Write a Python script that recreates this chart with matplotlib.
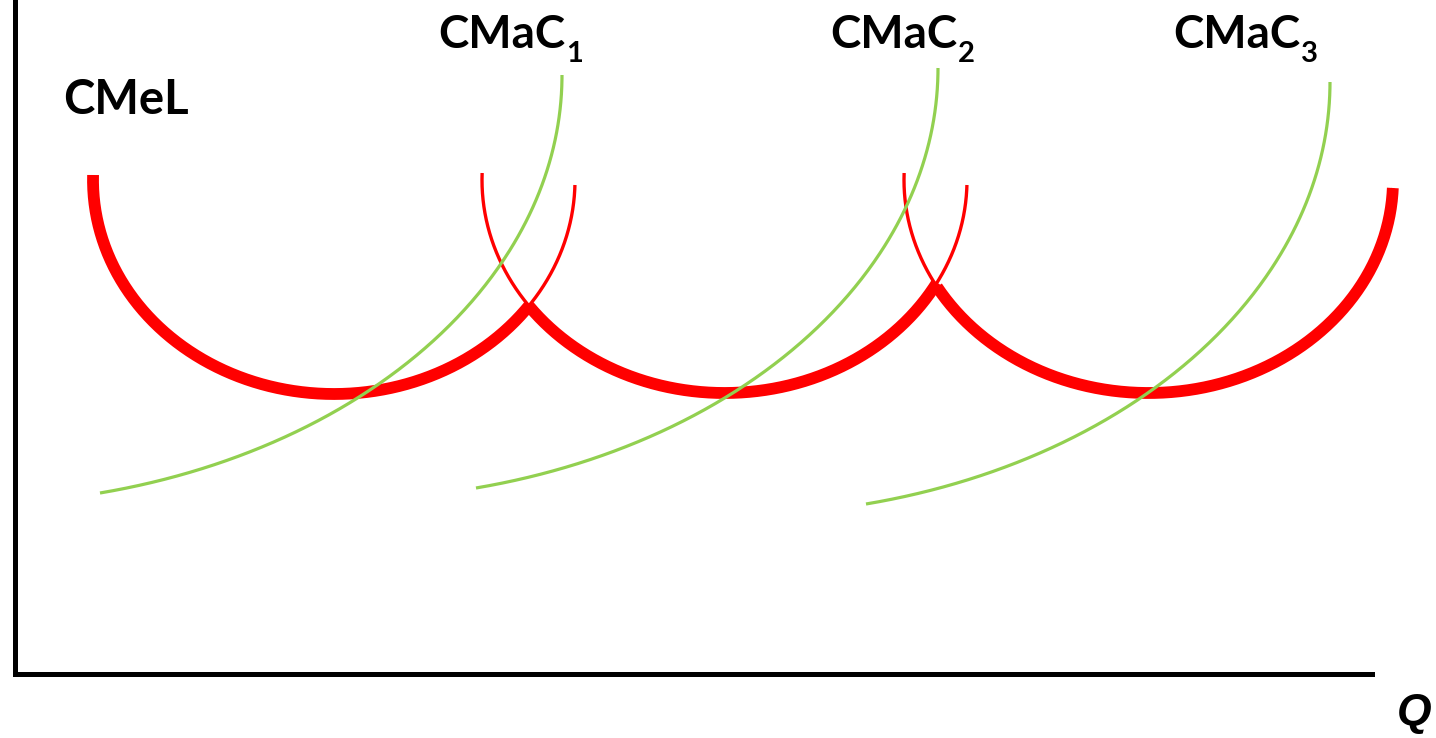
import numpy as np
import matplotlib.pyplot as plt

plt.rcParams['font.family'] = ['Lato', 'DejaVu Sans']

# axis units: 1 unit ~ 1 pixel of the reference, origin at the axes corner

# short run average cost curves (U shaped)
ac_center_q = [319.5, 710.0, 1134.0]
ac_half_width = [241.0, 242.5, 244.5]
ac_min_cost = [280.0, 281.0, 281.0]
ac_mid_cost = [494.0, 494.0, 494.0]
ac_left_end_cost = [499.0, 501.0, 501.0]
ac_right_end_cost = [489.0, 489.0, 486.0]

# quantities where the long run envelope (CMeL) moves to the next plant
switch_q = [514.5, 922.5]

# short run marginal cost curves
mc_top_q = [547.5, 923.5, 1315.5]
mc_top_cost = [599.0, 606.0, 592.0]
mc_bottom_q = [85.5, 461.5, 851.5]
mc_bottom_cost = [181.0, 186.0, 170.0]
mc_subscripts = ['1', '2', '3']
mc_label_q = [423.5, 815.5, 1158.5]

RED = '#FF0000'
GREEN = '#92D050'
MC_WIDTH = 600.0  # horizontal semi-axis of the marginal cost arcs


def t_on_lower_half(q, cx, a):
    '''parametric angle of the lower half of an ellipse at abscissa q'''
    c = np.clip((q - cx) / a, -1, 1)
    return 2 * np.pi - np.arccos(c)


fig = plt.figure(figsize=(14.36, 7.38), dpi=100)
ax = fig.add_axes([14.5 / 1436, 64 / 738, 1357.5 / 1436, 674 / 738])
ax.set_xlim(0, 1357.5)
ax.set_ylim(0, 674)

for i in range(3):
    cx = ac_center_q[i]
    cy = ac_mid_cost[i]
    a = ac_half_width[i]
    b = cy - ac_min_cost[i]
    t_left = np.pi - np.arcsin((ac_left_end_cost[i] - cy) / b)
    t_right = 2 * np.pi + np.arcsin((ac_right_end_cost[i] - cy) / b)

    # thin full short run curve
    t = np.linspace(t_left, t_right, 300)
    ax.plot(cx + a * np.cos(t), cy + b * np.sin(t), color=RED, lw=2.4,
            solid_capstyle='butt', zorder=2, clip_on=False)

    # thick part belonging to the long run envelope
    t0 = t_left if i == 0 else t_on_lower_half(switch_q[i - 1], cx, a)
    t1 = t_right if i == 2 else t_on_lower_half(switch_q[i], cx, a)
    t = np.linspace(t0, t1, 300)
    ax.plot(cx + a * np.cos(t), cy + b * np.sin(t), color=RED, lw=8.5,
            solid_capstyle='butt', zorder=3, clip_on=False)

for i in range(3):
    cx = mc_top_q[i] - MC_WIDTH
    cy = mc_top_cost[i]
    c = (mc_bottom_q[i] - cx) / MC_WIDTH
    b = (mc_top_cost[i] - mc_bottom_cost[i]) / np.sqrt(1 - c ** 2)
    t = np.linspace(-np.arccos(c), 0, 300)
    ax.plot(cx + MC_WIDTH * np.cos(t), cy + b * np.sin(t), color=GREEN,
            lw=2.3, solid_capstyle='butt', zorder=4, clip_on=False)
    main = ax.text(mc_label_q[i], 626, 'CMaC', fontsize=33,
                   fontweight='bold', ha='left', va='baseline')
    # subscript hangs under the baseline, right after the main text
    ax.annotate(mc_subscripts[i], xy=(1, 0), xycoords=main,
                xytext=(0.5, -4), textcoords='offset points', fontsize=21,
                fontweight='bold', ha='left', va='baseline')

ax.text(48.5, 560, 'CMeL', fontsize=34, fontweight='bold',
        ha='left', va='baseline')
ax.text(1400, -51, 'Q', fontsize=32, fontweight='bold', style='italic',
        family='Liberation Sans', ha='center', va='baseline')

for side in ['top', 'right']:
    ax.spines[side].set_visible(False)
for side in ['left', 'bottom']:
    ax.spines[side].set_linewidth(3.6)
ax.set_xticks([])
ax.set_yticks([])

fig.savefig('out.png', dpi=100)
